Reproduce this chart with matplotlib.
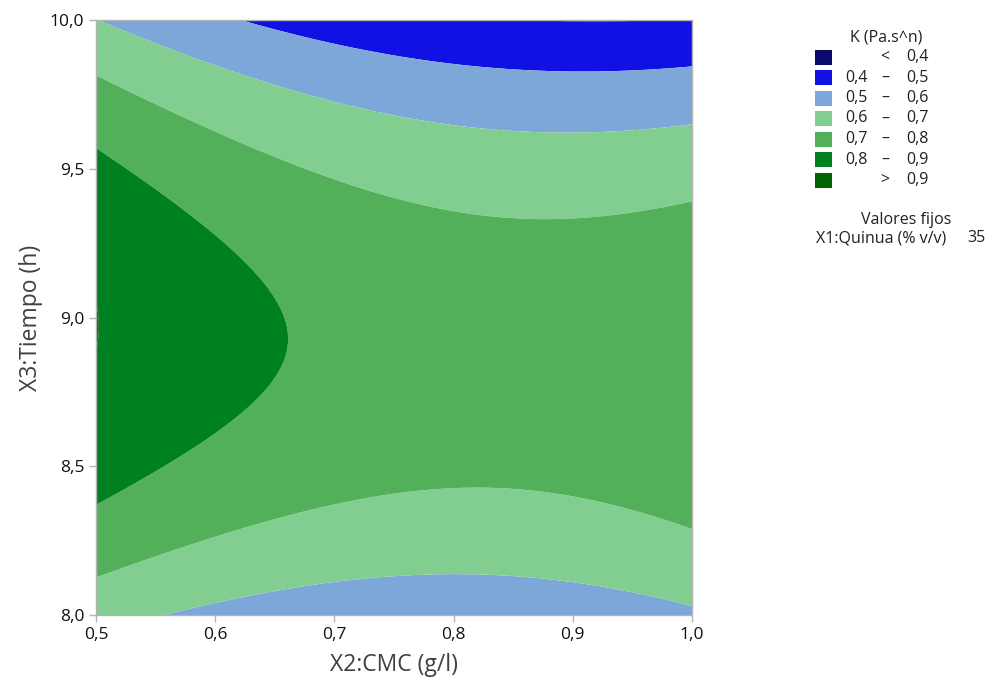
import numpy as np
import matplotlib
matplotlib.use("Agg")
import matplotlib.pyplot as plt
from matplotlib.patches import Rectangle

# Response-surface coefficients (coded units: u=(CMC-0.75)/0.25, v=(Tiempo-9)/1)
coef_names = ["b0", "bU", "bV", "bUU", "bVV", "bUV"]
coef_values = [0.7675, -0.0615, -0.0539, 0.0727, -0.2835, -0.0369]

cmc_range = [0.5, 1.0]
tiempo_range = [8.0, 10.0]
levels = [0.4, 0.5, 0.6, 0.7, 0.8, 0.9]
colors = ["#0A0A6E", "#1111E3", "#7DA7D9", "#82CD90", "#53B05A", "#008121", "#006400"]
legend_labels = [("", "<", "0,4"), ("0,4", "–", "0,5"), ("0,5", "–", "0,6"),
                 ("0,6", "–", "0,7"), ("0,7", "–", "0,8"), ("0,8", "–", "0,9"),
                 ("", ">", "0,9")]
xticks = [0.5, 0.6, 0.7, 0.8, 0.9, 1.0]
yticks = [8.0, 8.5, 9.0, 9.5, 10.0]

plt.rcParams['font.family'] = ['Open Sans', 'DejaVu Sans']

W, H = 1001, 681
fig = plt.figure(figsize=(W / 100, H / 100), dpi=100)
ax = fig.add_axes([96 / W, 1 - 615 / H, (692 - 96) / W, (615 - 20) / H])

c = dict(zip(coef_names, coef_values))
x = np.linspace(cmc_range[0], cmc_range[1], 400)
t = np.linspace(tiempo_range[0], tiempo_range[1], 400)
X, T = np.meshgrid(x, t)
U = (X - 0.75) / 0.25
V = (T - 9.0)
Z = (c["b0"] + c["bU"] * U + c["bV"] * V + c["bUU"] * U ** 2
     + c["bVV"] * V ** 2 + c["bUV"] * U * V)

all_levels = [-10] + levels + [10]
ax.contourf(X, T, Z, levels=all_levels, colors=colors, antialiased=True)

ax.set_xlim(cmc_range)
ax.set_ylim(tiempo_range)
ax.set_xticks(xticks)
ax.set_yticks(yticks)
ax.set_xticklabels([f"{v:.1f}".replace(".", ",") for v in xticks])
ax.set_yticklabels([f"{v:.1f}".replace(".", ",") for v in yticks])
for s in ax.spines.values():
    s.set_color("#B4B4B4")
    s.set_linewidth(1.0)
ax.tick_params(axis="both", colors="#B4B4B4", labelcolor="#111111", labelsize=12.5, length=5, width=1)
ax.set_xlabel("X2:CMC (g/l)", fontsize=16.5, color="#404040", labelpad=7)
ax.set_ylabel("X3:Tiempo (h)", fontsize=16.5, color="#404040", labelpad=5)

# legend
def fx(px):
    return px / W

def fy(py):
    return 1 - py / H

fs = 11.5
fig.text(fx(886), fy(38), "K (Pa.s^n)", ha="center", va="center", fontsize=fs, color="#202020")
row_y = [57 + 20.5 * i for i in range(7)]
for col, (a, sep, b), yy in zip(colors, legend_labels, row_y):
    fig.patches.append(Rectangle((fx(815), fy(yy + 7.5)), 17 / W, 15 / H, transform=fig.transFigure,
                                 facecolor=col, edgecolor="none"))
    if a:
        fig.text(fx(845), fy(yy), a, ha="left", va="center", fontsize=fs, color="#202020")
    fig.text(fx(885), fy(yy), sep, ha="center", va="center", fontsize=fs, color="#202020")
    fig.text(fx(929), fy(yy), b, ha="right", va="center", fontsize=fs, color="#202020")

fig.text(fx(906), fy(220), "Valores fijos", ha="center", va="center", fontsize=fs, color="#202020")
fig.text(fx(816), fy(238), "X1:Quinua (% v/v)", ha="left", va="center", fontsize=fs, color="#202020")
fig.text(fx(986), fy(238), "35", ha="right", va="center", fontsize=fs, color="#202020")

fig.savefig("out.png", dpi=100)
